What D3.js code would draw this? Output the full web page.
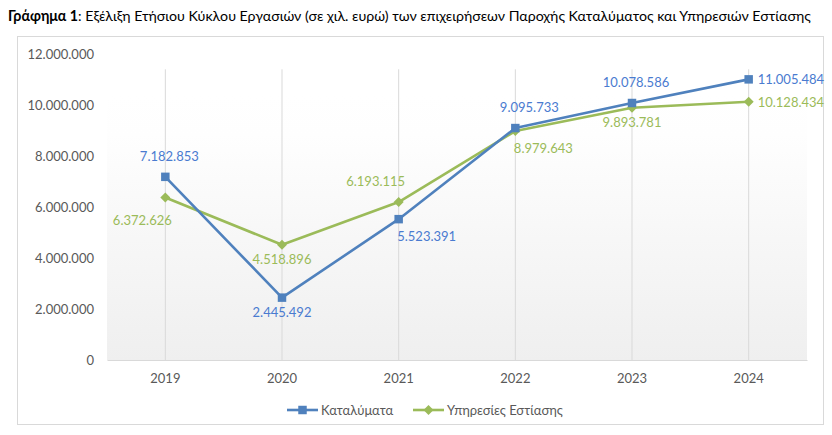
<!DOCTYPE html>
<html>
<head>
<meta charset="utf-8">
<script src="https://cdn.jsdelivr.net/npm/d3@7"></script>
<style>
    body { margin: 0; background: #fff; }
    text { font-family: Lato, "Open Sans", sans-serif; }
</style>
</head>
<body>
<script>
let years = ["2019", "2020", "2021", "2022", "2023", "2024"];
let accommodation = [7182853, 2445492, 5523391, 9095733, 10078586, 11005484];
let foodService = [6372626, 4518896, 6193115, 8979643, 9893781, 10128434];
let seriesNames = ["Καταλύματα", "Υπηρεσίες Εστίασης"];
let yTicks = [0, 2000000, 4000000, 6000000, 8000000, 10000000, 12000000];
// where each data label sits relative to its point
let accLabelPos = ["above", "below", "belowRight", "aboveRight", "above", "right"];
let foodLabelPos = ["belowLeft", "below", "aboveLeft", "belowRight", "below", "right"];

let svgWidth = 832,
    svgHeight = 435,
    plot = { left: 107, right: 807, top: 54, bottom: 360 },
    blue = "#4f81bd",
    green = "#9bbb59",
    blueText = "#4a7bd0",
    greenText = "#9bbb59",
    gray = "#595959";

let svg = d3.select("body").append("svg")
    .attr("width", svgWidth)
    .attr("height", svgHeight);

let fmt = v => d3.format(",")(v).replace(/,/g, ".");

let x = d3.scaleBand().domain(years).range([plot.left, plot.right]);
let y = d3.scaleLinear().domain([0, 12000000]).range([plot.bottom, plot.top]);
let cx = d => x(d) + x.bandwidth() / 2;

// title
let title = svg.append("text").attr("x", 8).attr("y", 21).style("font-size", "14.2px").attr("fill", "#000");
title.append("tspan").style("font-weight", "bold").text("Γράφημα 1");
title.append("tspan").text(": Εξέλιξη Ετήσιου Κύκλου Εργασιών (σε χιλ. ευρώ) των επιχειρήσεων Παροχής Καταλύματος και Υπηρεσιών Εστίασης");

// chart frame
svg.append("rect")
    .attr("x", 17.5).attr("y", 36.5)
    .attr("width", 806).attr("height", 388)
    .attr("fill", "#fff").attr("stroke", "#d9d9d9");

// plot area gradient
let grad = svg.append("defs").append("linearGradient")
    .attr("id", "bg").attr("x1", 0).attr("y1", 0).attr("x2", 0).attr("y2", 1);
grad.append("stop").attr("offset", "0%").attr("stop-color", "#ffffff");
grad.append("stop").attr("offset", "15%").attr("stop-color", "#fefefe");
grad.append("stop").attr("offset", "100%").attr("stop-color", "#efefef");

svg.append("rect")
    .attr("x", plot.left).attr("y", y(10400000))
    .attr("width", plot.right - plot.left).attr("height", plot.bottom - y(10400000))
    .attr("fill", "url(#bg)");

// vertical grid lines
svg.append("g").selectAll("line").data(years).join("line")
    .attr("x1", cx).attr("x2", cx)
    .attr("y1", y(11400000)).attr("y2", plot.bottom)
    .attr("stroke", "#d9d9d9").attr("stroke-width", 1);

// x axis
let xAxis = svg.append("g")
    .attr("transform", "translate(0," + plot.bottom + ")")
    .call(d3.axisBottom(x).tickSize(0).tickPadding(14));
xAxis.select(".domain").attr("stroke", "#d9d9d9");
xAxis.selectAll("text").attr("fill", gray).style("font-size", "13px").style("font-family", "Lato, sans-serif");

// y axis
let yAxis = svg.append("g")
    .attr("transform", "translate(" + 94 + ",0)")
    .call(d3.axisLeft(y).tickValues(yTicks).tickSize(0).tickPadding(0).tickFormat(fmt));
yAxis.select(".domain").remove();
yAxis.selectAll("text").attr("fill", gray).style("font-size", "13px").style("font-family", "Lato, sans-serif");

let line = d3.line().x((d, i) => cx(years[i])).y(d => y(d));

function labelOffset(pos) {
    switch (pos) {
        case "above": return { dx: 4, dy: -16, anchor: "middle" };
        case "aboveRight": return { dx: 14, dy: -16, anchor: "middle" };
        case "aboveLeft": return { dx: -23, dy: -16, anchor: "middle" };
        case "below": return { dx: 0, dy: 19, anchor: "middle" };
        case "belowRight": return { dx: 28, dy: 22, anchor: "middle" };
        case "belowLeft": return { dx: -23, dy: 28, anchor: "middle" };
        case "right": return { dx: 9, dy: 5, anchor: "start" };
    }
}

function drawSeries(values, color, textColor, shape, positions) {
    svg.append("path")
        .datum(values)
        .attr("d", line)
        .attr("fill", "none")
        .attr("stroke", color)
        .attr("stroke-width", 2.6)
        .attr("stroke-linejoin", "round");

    svg.append("g").selectAll("path").data(values).join("path")
        .attr("transform", (d, i) => "translate(" + cx(years[i]) + "," + y(d) + ")")
        .attr("d", shape)
        .attr("fill", color);

    svg.append("g").selectAll("text").data(values).join("text")
        .attr("x", (d, i) => cx(years[i]) + labelOffset(positions[i]).dx)
        .attr("y", (d, i) => y(d) + labelOffset(positions[i]).dy)
        .attr("text-anchor", (d, i) => labelOffset(positions[i]).anchor)
        .attr("fill", textColor)
        .style("font-size", "13px")
        .text(fmt);
}

let square = d3.symbol(d3.symbolSquare, 72)();
let diamond = "M0,-5L5,0L0,5L-5,0Z";

drawSeries(foodService, green, greenText, diamond, foodLabelPos);
drawSeries(accommodation, blue, blueText, square, accLabelPos);

// legend
let legend = [
    { name: seriesNames[0], color: blue, shape: square, x: 287 },
    { name: seriesNames[1], color: green, shape: diamond, x: 413 }
];
let lg = svg.append("g").selectAll("g").data(legend).join("g")
    .attr("transform", d => "translate(" + d.x + ",410)");
lg.append("line").attr("x1", 0).attr("x2", 31).attr("stroke", d => d.color).attr("stroke-width", 2.6);
lg.append("path").attr("transform", "translate(15.5,0)").attr("d", d => d.shape).attr("fill", d => d.color);
lg.append("text").attr("x", 34).attr("y", 4.5).attr("fill", gray).style("font-size", "13px").text(d => d.name);
</script>
</body>
</html>
